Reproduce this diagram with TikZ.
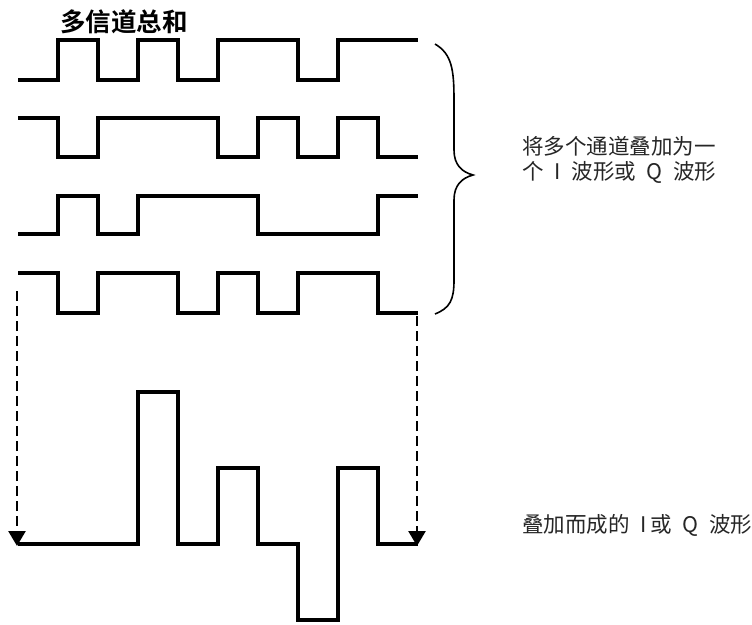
\documentclass[tikz,border=0pt]{standalone}
\usepackage{fontspec}
\newfontfamily\cjk{Noto Sans CJK SC}
\newfontfamily\cjkbold{Noto Sans CJK SC Bold}
\usetikzlibrary{arrows.meta}

\tikzset{
	wave/.style={line width=3.8pt, line join=miter},
	drop/.style={line width=2.6pt, dash pattern=on 10pt off 5pt, -{Triangle[length=15pt,width=17pt]}},
	label/.style={font=\cjk\fontsize{21.5}{25}\selectfont, text=black!85, align=left, anchor=west, inner sep=0pt}
}

\begin{document}
\begin{tikzpicture}[x=1pt, y=-1pt]
	\useasboundingbox (0,0) rectangle (752,624);

	\node (title) [font=\cjkbold\fontsize{25.5}{28}\selectfont, inner sep=0pt] at (124,22) {多信道总和};

	% the four channels
	\draw[wave] (18,80) -- (58,80) -- (58,40) -- (98,40) -- (98,80) -- (138,80) -- (138,40) -- (178,40) -- (178,80) -- (218,80) -- (218,40) -- (298,40) -- (298,80) -- (338,80) -- (338,40) -- (418,40);
	\draw[wave] (18,118) -- (58,118) -- (58,157) -- (98,157) -- (98,118) -- (218,118) -- (218,157) -- (258,157) -- (258,118) -- (298,118) -- (298,157) -- (338,157) -- (338,118) -- (378,118) -- (378,157) -- (418,157);
	\draw[wave] (18,234) -- (58,234) -- (58,196) -- (98,196) -- (98,234) -- (138,234) -- (138,196) -- (258,196) -- (258,234) -- (378,234) -- (378,196) -- (418,196);
	\draw[wave] (18,273) -- (58,273) -- (58,313) -- (98,313) -- (98,273) -- (178,273) -- (178,313) -- (218,313) -- (218,273) -- (258,273) -- (258,313) -- (298,313) -- (298,273) -- (378,273) -- (378,313) -- (418,313);

	% brace
	\draw[line width=1.6pt] (435,44) .. controls (452,54) and (454,70) .. (454,100) -- (454,150) .. controls (454,165) and (462,172) .. (473,175) .. controls (462,178) and (454,185) .. (454,200) -- (454,280) .. controls (454,300) and (450,308) .. (435,314);
	\node (merge) [label] at (522,160) {将多个通道叠加为一\\个\enspace I\enspace 波形或\enspace Q\enspace 波形};

	% summed waveform
	\draw[wave] (18,544) -- (138,544) -- (138,392) -- (178,392) -- (178,544) -- (218,544) -- (218,468) -- (258,468) -- (258,544) -- (298,544) -- (298,620) -- (338,620) -- (338,468) -- (378,468) -- (378,544) -- (418,544);
	\node (result) [label] at (522,525) {叠加而成的\enspace I\,或\enspace Q\enspace 波形};

	\coordinate (l0) at (17,291);
	\coordinate (l1) at (17,546);
	\coordinate (r0) at (417,316);
	\coordinate (r1) at (417,546);
	\draw[drop] (l0) -- (l1);
	\draw[drop] (r0) -- (r1);
\end{tikzpicture}
\end{document}
